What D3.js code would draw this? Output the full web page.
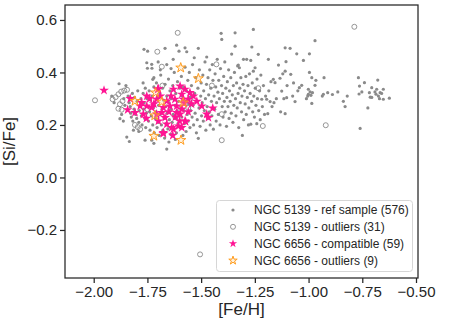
<!DOCTYPE html>
<html>
<head>
<meta charset="utf-8">
<script src="https://cdn.jsdelivr.net/npm/d3@7"></script>
<style>
  body { margin: 0; background: #fff; }
  svg { display: block; font-family: "Liberation Sans", Arial, sans-serif; }
</style>
</head>
<body>
<svg></svg>
<script>
// NGC 5139 reference sample, [Fe/H] vs [Si/Fe]
let refSample = [
  [-1.916,0.310],[-1.882,0.357],[-1.878,0.224],[-1.905,0.285],[-1.870,0.240],[-1.860,0.300],[-1.855,0.275],[-1.862,0.215],[-1.850,0.350],
  [-1.846,0.154],[-1.834,0.137],[-1.840,0.310],[-1.835,0.285],[-1.830,0.270],[-1.828,0.245],[-1.825,0.230],[-1.820,0.320],[-1.818,0.215],
  [-1.812,0.260],[-1.810,0.305],[-1.805,0.240],[-1.800,0.225],[-1.798,0.290],[-1.795,0.330],[-1.790,0.210],[-1.788,0.255],[-1.785,0.275],
  [-1.780,0.300],[-1.778,0.235],[-1.775,0.200],[-1.770,0.320],[-1.768,0.260],[-1.765,0.285],[-1.762,0.225],[-1.760,0.340],[-1.758,0.190],
  [-1.755,0.245],[-1.752,0.300],[-1.761,0.142],[-1.730,0.142],[-1.766,0.488],[-1.749,0.481],[-1.753,0.437],[-1.730,0.431],[-1.729,0.416],
  [-1.750,0.416],[-1.720,0.380],[-1.725,0.374],[-1.770,0.360],[-1.790,0.175],[-1.815,0.180],
  [-1.748,0.270],[-1.745,0.215],[-1.742,0.330],[-1.740,0.250],[-1.738,0.180],[-1.735,0.295],[-1.732,0.235],[-1.728,0.310],[-1.725,0.200],
  [-1.722,0.265],[-1.720,0.345],[-1.718,0.170],[-1.715,0.285],[-1.712,0.225],[-1.710,0.250],[-1.708,0.360],[-1.705,0.190],[-1.702,0.305],
  [-1.700,0.210],[-1.698,0.275],[-1.695,0.160],[-1.692,0.320],[-1.690,0.240],[-1.688,0.390],[-1.685,0.200],[-1.682,0.260],[-1.680,0.340],
  [-1.678,0.180],[-1.675,0.295],[-1.672,0.225],[-1.670,0.150],[-1.668,0.355],[-1.665,0.270],[-1.662,0.205],[-1.660,0.310],[-1.658,0.245],
  [-1.655,0.185],[-1.652,0.375],[-1.650,0.285],[-1.648,0.220],[-1.645,0.330],[-1.642,0.165],[-1.640,0.260],[-1.638,0.300],[-1.635,0.210],
  [-1.632,0.350],[-1.630,0.240],[-1.628,0.190],[-1.625,0.400],[-1.622,0.275],[-1.620,0.225],[-1.618,0.320],[-1.615,0.170],[-1.612,0.255],
  [-1.610,0.365],[-1.608,0.205],[-1.605,0.290],[-1.602,0.235],[-1.600,0.340],[-1.660,0.108],[-1.668,0.492],[-1.614,0.504],[-1.603,0.481],
  [-1.700,0.440],[-1.660,0.430],[-1.640,0.415],[-1.690,0.410],[-1.630,0.450],[-1.720,0.130],[-1.650,0.135],[-1.620,0.145],
  [-1.598,0.190],[-1.595,0.270],[-1.592,0.385],[-1.590,0.230],[-1.588,0.310],[-1.585,0.160],[-1.582,0.345],[-1.580,0.255],[-1.578,0.205],
  [-1.575,0.420],[-1.575,0.494],[-1.567,0.479],[-1.572,0.290],[-1.570,0.175],[-1.568,0.330],[-1.565,0.240],[-1.562,0.370],[-1.560,0.215],
  [-1.558,0.280],[-1.555,0.400],[-1.552,0.190],[-1.550,0.305],[-1.548,0.255],[-1.545,0.350],[-1.542,0.230],[-1.540,0.430],[-1.538,0.275],
  [-1.535,0.200],[-1.532,0.456],[-1.530,0.320],[-1.528,0.245],[-1.525,0.380],[-1.522,0.170],[-1.520,0.290],[-1.518,0.220],[-1.515,0.340],
  [-1.513,0.492],[-1.513,0.149],[-1.510,0.265],[-1.508,0.410],[-1.505,0.195],[-1.502,0.310],[-1.500,0.360],[-1.498,0.235],[-1.495,0.285],
  [-1.492,0.390],[-1.490,0.215],[-1.488,0.330],[-1.485,0.255],[-1.482,0.440],[-1.480,0.300],[-1.478,0.180],[-1.475,0.355],[-1.474,0.459],
  [-1.472,0.270],[-1.470,0.225],[-1.468,0.380],[-1.465,0.315],[-1.462,0.250],[-1.460,0.410],[-1.458,0.200],[-1.455,0.340],[-1.452,0.290],
  [-1.450,0.235],[-1.443,0.184],[-1.445,0.370],[-1.448,0.430],
  [-1.440,0.310],[-1.437,0.260],[-1.435,0.395],[-1.432,0.345],[-1.430,0.215],[-1.428,0.285],[-1.425,0.450],[-1.422,0.325],[-1.420,0.240],
  [-1.418,0.370],[-1.415,0.300],[-1.412,0.200],[-1.410,0.415],[-1.407,0.549],[-1.404,0.526],[-1.405,0.350],[-1.402,0.270],[-1.400,0.320],
  [-1.398,0.230],[-1.395,0.385],[-1.392,0.290],[-1.390,0.440],[-1.388,0.250],[-1.385,0.340],[-1.382,0.195],[-1.380,0.305],[-1.378,0.365],
  [-1.375,0.270],[-1.372,0.410],[-1.370,0.225],[-1.368,0.330],[-1.365,0.290],[-1.362,0.380],[-1.360,0.245],[-1.358,0.470],[-1.355,0.315],
  [-1.352,0.210],[-1.350,0.350],[-1.348,0.275],[-1.345,0.400],[-1.342,0.551],[-1.342,0.500],[-1.340,0.300],[-1.338,0.235],[-1.335,0.360],
  [-1.332,0.265],[-1.330,0.425],[-1.327,0.428],[-1.322,0.418],[-1.328,0.320],[-1.325,0.190],[-1.320,0.340],[-1.318,0.285],[-1.315,0.380],
  [-1.312,0.250],[-1.310,0.310],[-1.308,0.160],[-1.305,0.355],[-1.303,0.450],[-1.302,0.220],
  [-1.298,0.330],[-1.295,0.280],[-1.292,0.385],[-1.290,0.240],[-1.288,0.450],[-1.285,0.305],[-1.282,0.350],[-1.280,0.200],[-1.278,0.265],
  [-1.275,0.395],[-1.272,0.320],[-1.269,0.446],[-1.269,0.203],[-1.265,0.290],[-1.264,0.497],[-1.262,0.360],[-1.260,0.250],[-1.257,0.564],
  [-1.257,0.405],[-1.255,0.310],[-1.252,0.230],[-1.249,0.418],[-1.248,0.340],[-1.245,0.275],[-1.241,0.205],[-1.240,0.375],[-1.238,0.300],
  [-1.234,0.469],[-1.232,0.255],[-1.228,0.330],[-1.225,0.220],[-1.222,0.390],[-1.218,0.298],[-1.215,0.270],[-1.210,0.350],[-1.205,0.240],
  [-1.200,0.310],[-1.195,0.298],[-1.190,0.243],[-1.187,0.450],[-1.185,0.330],[-1.179,0.289],[-1.175,0.365],[-1.170,0.270],[-1.164,0.374],
  [-1.161,0.285],[-1.156,0.361],[-1.150,0.300],[-1.140,0.428],[-1.133,0.378],[-1.130,0.250],[-1.125,0.329],[-1.120,0.395],[-1.115,0.300],
  [-1.109,0.494],[-1.109,0.405],[-1.109,0.243],[-1.105,0.441],[-1.102,0.304],[-1.100,0.350],
  [-1.086,0.492],[-1.083,0.393],[-1.074,0.310],[-1.070,0.360],[-1.063,0.289],[-1.055,0.471],[-1.050,0.330],[-1.043,0.342],[-1.032,0.351],
  [-1.024,0.446],[-1.010,0.300],[-1.001,0.336],[-1.001,0.317],[-0.996,0.471],[-0.996,0.400],[-0.993,0.326],[-0.985,0.380],[-0.985,0.282],
  [-0.982,0.323],[-0.989,0.313],[-1.004,0.310],[-0.970,0.521],[-0.970,0.351],[-0.966,0.370],[-0.936,0.310],[-0.931,0.317],[-0.928,0.380],
  [-0.911,0.323],[-0.889,0.316],[-0.864,0.326],[-0.838,0.290],[-0.830,0.270],[-0.820,0.310],[-0.768,0.380],[-0.763,0.348],[-0.752,0.326],
  [-0.765,0.318],[-0.760,0.187],[-0.740,0.361],[-0.724,0.265],[-0.717,0.323],[-0.713,0.306],[-0.706,0.342],[-0.706,0.305],[-0.691,0.326],
  [-0.686,0.317],[-0.683,0.336],[-0.678,0.371],[-0.675,0.310],[-0.667,0.323],[-0.652,0.336],[-0.652,0.298],[-0.624,0.302],[-0.660,0.320],
  [-0.670,0.300]
]

// NGC 5139 outliers (open circles)
let refOutliers = [
  [-1.994,0.294],[-1.912,0.298],[-1.898,0.306],[-1.885,0.317],[-1.872,0.327],[-1.858,0.331],[-1.845,0.334],[-1.878,0.279],
  [-1.866,0.291],[-1.885,0.262],[-1.870,0.258],[-1.808,0.200],[-1.795,0.192],[-1.784,0.184],[-1.704,0.479],[-1.609,0.551],
  [-1.683,0.422],[-1.429,0.431],[-1.404,0.241],[-1.404,0.142],[-1.234,0.340],[-1.213,0.196],[-0.787,0.574],[-0.920,0.199],
  [-1.505,-0.293],[-1.750,0.260],[-1.620,0.230],[-1.550,0.300],[-1.680,0.350],[-1.450,0.350],[-1.560,0.265]
]

// NGC 6656 compatible stars
let compatible = [
  [-1.952,0.332],[-1.830,0.300],[-1.842,0.258],[-1.808,0.247],[-1.769,0.241],[-1.753,0.310],[-1.777,0.285],[-1.784,0.272],
  [-1.753,0.272],[-1.730,0.266],[-1.707,0.298],[-1.699,0.338],[-1.660,0.291],[-1.676,0.266],[-1.683,0.247],[-1.707,0.241],
  [-1.699,0.215],[-1.668,0.228],[-1.660,0.203],[-1.676,0.171],[-1.637,0.190],[-1.629,0.336],[-1.622,0.298],[-1.645,0.272],
  [-1.614,0.272],[-1.598,0.348],[-1.575,0.336],[-1.552,0.323],[-1.590,0.317],[-1.583,0.298],[-1.590,0.260],[-1.598,0.241],
  [-1.614,0.247],[-1.606,0.196],[-1.590,0.190],[-1.575,0.215],[-1.497,0.272],[-1.474,0.241],[-1.466,0.228],[-1.446,0.264],
  [-1.536,0.310],[-1.560,0.298],[-1.702,0.336],[-1.578,0.283],[-1.572,0.213],[-1.629,0.184],[-1.676,0.167],[-1.740,0.300],
  [-1.720,0.280],[-1.650,0.250],[-1.640,0.310],[-1.620,0.230],[-1.560,0.250],[-1.545,0.280],[-1.690,0.310],[-1.755,0.225],
  [-1.600,0.215],[-1.520,0.290],[-1.632,0.160]
]

// NGC 6656 outliers
let outliers6656 = [
  [-1.595,0.418],[-1.513,0.377],[-1.808,0.291],[-1.712,0.323],[-1.683,0.288],[-1.716,0.236],[-1.583,0.285],[-1.720,0.158],[-1.594,0.142]
]

let xTicks = [-2.00, -1.75, -1.50, -1.25, -1.00, -0.75, -0.50]
let yTicks = [-0.2, 0.0, 0.2, 0.4, 0.6]

let legendLabels = [
  'NGC 5139 - ref sample (576)',
  'NGC 5139 - outliers (31)',
  'NGC 6656 - compatible (59)',
  'NGC 6656 - outliers (9)'
]

let w = 449
let h = 335
let mLeft = 65, mRight = 418, mTop = 5, mBottom = 278
let ink = '#262626'
let grey = '#8a8a8a'
let pink = '#ff1493'
let orange = '#ff9d1f'

let svg = d3.select('svg').attr('width', w).attr('height', h)

let xScale = d3.scaleLinear().domain([-2.1336, -0.4907]).range([mLeft, mRight])
let yScale = d3.scaleLinear().domain([-0.383, 0.657]).range([mBottom, mTop])

let star = d3.symbol().type(d3.symbolStar)

// points
let plot = svg.append('g')

plot.selectAll('.ref')
    .data(refSample)
    .enter()
    .append('circle')
    .attr('cx', d => xScale(d[0]))
    .attr('cy', d => yScale(d[1]))
    .attr('r', 1.6)
    .attr('fill', grey)

plot.selectAll('.out')
    .data(refOutliers)
    .enter()
    .append('circle')
    .attr('cx', d => xScale(d[0]))
    .attr('cy', d => yScale(d[1]))
    .attr('r', 2.5)
    .attr('fill', 'none')
    .attr('stroke', grey)
    .attr('stroke-width', 0.9)

plot.selectAll('.comp')
    .data(compatible)
    .enter()
    .append('path')
    .attr('d', star.size(30))
    .attr('transform', d => 'translate(' + xScale(d[0]) + ',' + yScale(d[1]) + ')')
    .attr('fill', pink)

plot.selectAll('.out2')
    .data(outliers6656)
    .enter()
    .append('path')
    .attr('d', star.size(30))
    .attr('transform', d => 'translate(' + xScale(d[0]) + ',' + yScale(d[1]) + ')')
    .attr('fill', 'rgba(255,200,120,0.25)')
    .attr('stroke', orange)
    .attr('stroke-width', 1)

// axes
let xAxis = d3.axisBottom(xScale).tickValues(xTicks).tickSize(5).tickPadding(3)
    .tickFormat(d => d3.format('.2f')(d).replace('-', '\u2212'))
let yAxis = d3.axisLeft(yScale).tickValues(yTicks).tickSize(5).tickPadding(3)
    .tickFormat(d => d3.format('.1f')(d).replace('-', '\u2212'))

let gx = svg.append('g')
    .attr('transform', 'translate(0,' + mBottom + ')')
    .call(xAxis)
let gy = svg.append('g')
    .attr('transform', 'translate(' + mLeft + ',0)')
    .call(yAxis)

for (let g of [gx, gy]) {
    g.select('.domain').remove()
    g.selectAll('line').attr('stroke', ink).attr('stroke-width', 1.25)
    g.selectAll('text').attr('fill', ink).style('font-size', '15px')
}

svg.append('rect')
    .attr('x', mLeft).attr('y', mTop)
    .attr('width', mRight - mLeft).attr('height', mBottom - mTop)
    .attr('fill', 'none').attr('stroke', ink).attr('stroke-width', 1.25)

svg.append('text')
    .attr('x', (mLeft + mRight) / 2).attr('y', 315)
    .attr('text-anchor', 'middle')
    .attr('fill', ink)
    .style('font-size', '17px')
    .text('[Fe/H]')

svg.append('text')
    .attr('transform', 'translate(15,' + ((mTop + mBottom) / 2) + ') rotate(-90)')
    .attr('text-anchor', 'middle')
    .attr('fill', ink)
    .style('font-size', '17px')
    .text('[Si/Fe]')

// legend
let legend = svg.append('g')
legend.append('rect')
    .attr('x', 216.5).attr('y', 200.5)
    .attr('width', 196).attr('height', 71)
    .attr('rx', 3)
    .attr('fill', 'rgba(255,255,255,0.85)')
    .attr('stroke', '#d6d6d6')
    .attr('stroke-width', 1)

let rowY = [210, 226.8, 243.6, 260.5]
let mx = 233

legend.append('circle').attr('cx', mx).attr('cy', rowY[0]).attr('r', 1.6).attr('fill', grey)
legend.append('circle').attr('cx', mx).attr('cy', rowY[1]).attr('r', 2.5)
    .attr('fill', 'none').attr('stroke', grey).attr('stroke-width', 0.9)
legend.append('path').attr('d', star.size(22))
    .attr('transform', 'translate(' + mx + ',' + rowY[2] + ')').attr('fill', pink)
legend.append('path').attr('d', star.size(22))
    .attr('transform', 'translate(' + mx + ',' + rowY[3] + ')')
    .attr('fill', 'rgba(255,200,120,0.25)').attr('stroke', orange).attr('stroke-width', 1)

legend.selectAll('.lbl')
    .data(legendLabels)
    .enter()
    .append('text')
    .attr('x', 254)
    .attr('y', (d, i) => rowY[i] + 4.3)
    .attr('fill', ink)
    .style('font-size', '12px')
    .text(d => d)
</script>
</body>
</html>
